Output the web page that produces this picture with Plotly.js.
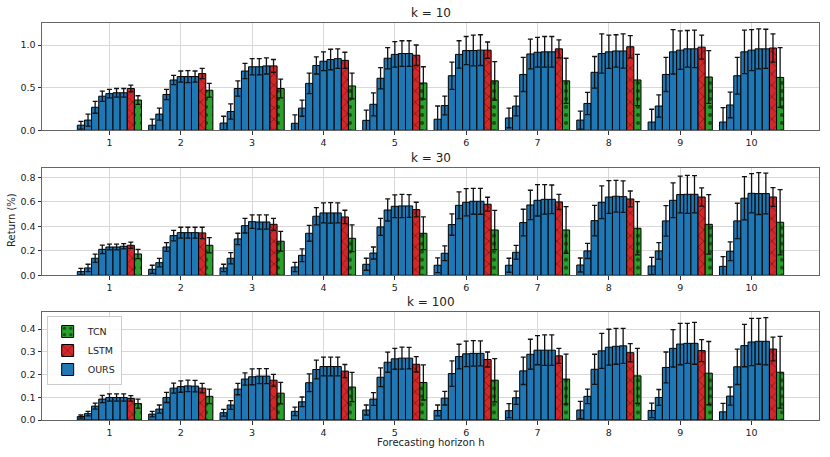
<!DOCTYPE html>
<html>
<head>
<meta charset="utf-8">
<script src="https://cdn.plot.ly/plotly-3.0.1.min.js"></script>
<style>
  html, body { margin: 0; padding: 0; background: #fff; }
  #graph_area { width: 830px; height: 457px; }
</style>
</head>
<body>
<div id="graph_area"></div>
<script>
// horizons 1..10, one group of bars per horizon
const horizons = [1, 2, 3, 4, 5, 6, 7, 8, 9, 10];

// OURS: 7 bars per horizon
const ours10 = [
    [0.06, 0.12, 0.27, 0.40, 0.43, 0.44, 0.44],
    [0.06, 0.19, 0.42, 0.59, 0.63, 0.63, 0.63],
    [0.085, 0.22, 0.49, 0.695, 0.745, 0.745, 0.755],
    [0.082, 0.26, 0.55, 0.76, 0.81, 0.83, 0.84],
    [0.117, 0.305, 0.61, 0.845, 0.89, 0.90, 0.90],
    [0.13, 0.29, 0.64, 0.89, 0.935, 0.935, 0.94],
    [0.145, 0.285, 0.655, 0.895, 0.915, 0.92, 0.92],
    [0.12, 0.315, 0.68, 0.90, 0.92, 0.93, 0.93],
    [0.097, 0.285, 0.655, 0.92, 0.94, 0.955, 0.955],
    [0.097, 0.297, 0.64, 0.92, 0.94, 0.955, 0.955],
];
const ours10Err = [
    [0.045, 0.07, 0.07, 0.06, 0.05, 0.05, 0.05],
    [0.07, 0.07, 0.06, 0.055, 0.065, 0.07, 0.065],
    [0.08, 0.09, 0.09, 0.09, 0.095, 0.095, 0.095],
    [0.1, 0.095, 0.12, 0.1, 0.11, 0.12, 0.115],
    [0.12, 0.135, 0.125, 0.125, 0.15, 0.15, 0.15],
    [0.155, 0.11, 0.16, 0.16, 0.165, 0.18, 0.18],
    [0.115, 0.115, 0.2, 0.175, 0.175, 0.18, 0.18],
    [0.105, 0.13, 0.185, 0.23, 0.195, 0.19, 0.2],
    [0.15, 0.13, 0.2, 0.26, 0.225, 0.215, 0.22],
    [0.17, 0.15, 0.215, 0.255, 0.24, 0.235, 0.23],
];
const lstm10 = [0.49, 0.665, 0.755, 0.82, 0.88, 0.94, 0.955, 0.98, 0.975, 0.965];
const lstm10Err = [0.04, 0.06, 0.075, 0.095, 0.12, 0.095, 0.105, 0.13, 0.14, 0.165];
const tcn10 = [0.355, 0.47, 0.49, 0.52, 0.555, 0.58, 0.58, 0.59, 0.625, 0.62];
const tcn10Err = [0.05, 0.08, 0.11, 0.15, 0.19, 0.225, 0.265, 0.3, 0.31, 0.35];

const ours30 = [
    [0.03, 0.06, 0.139, 0.212, 0.231, 0.231, 0.237],
    [0.049, 0.103, 0.231, 0.324, 0.348, 0.348, 0.348],
    [0.06, 0.139, 0.297, 0.405, 0.438, 0.435, 0.435],
    [0.068, 0.163, 0.343, 0.482, 0.509, 0.509, 0.509],
    [0.09, 0.182, 0.395, 0.533, 0.563, 0.566, 0.566],
    [0.082, 0.18, 0.414, 0.571, 0.596, 0.604, 0.604],
    [0.082, 0.188, 0.43, 0.574, 0.612, 0.62, 0.62],
    [0.084, 0.199, 0.446, 0.596, 0.639, 0.645, 0.642],
    [0.076, 0.199, 0.444, 0.612, 0.659, 0.661, 0.661],
    [0.073, 0.196, 0.444, 0.629, 0.669, 0.667, 0.667],
];
const ours30Err = [
    [0.027, 0.03, 0.033, 0.035, 0.023, 0.023, 0.022],
    [0.033, 0.035, 0.035, 0.043, 0.044, 0.044, 0.044],
    [0.03, 0.046, 0.046, 0.06, 0.055, 0.058, 0.058],
    [0.038, 0.052, 0.065, 0.07, 0.082, 0.084, 0.082],
    [0.049, 0.049, 0.07, 0.09, 0.093, 0.095, 0.093],
    [0.06, 0.06, 0.087, 0.109, 0.111, 0.106, 0.106],
    [0.057, 0.057, 0.109, 0.12, 0.128, 0.12, 0.117],
    [0.057, 0.062, 0.125, 0.133, 0.134, 0.13, 0.128],
    [0.07, 0.068, 0.125, 0.142, 0.15, 0.155, 0.152],
    [0.079, 0.076, 0.144, 0.177, 0.16, 0.171, 0.166],
];
const lstm30 = [0.245, 0.346, 0.416, 0.476, 0.536, 0.58, 0.599, 0.623, 0.639, 0.639];
const lstm30Err = [0.025, 0.046, 0.049, 0.055, 0.06, 0.057, 0.062, 0.065, 0.074, 0.077];
const tcn30 = [0.174, 0.245, 0.278, 0.302, 0.343, 0.37, 0.37, 0.384, 0.416, 0.433];
const tcn30Err = [0.038, 0.062, 0.081, 0.109, 0.133, 0.16, 0.19, 0.217, 0.243, 0.266];

const ours100 = [
    [0.015, 0.028, 0.061, 0.092, 0.099, 0.099, 0.099],
    [0.026, 0.048, 0.099, 0.14, 0.147, 0.15, 0.149],
    [0.032, 0.066, 0.136, 0.18, 0.19, 0.193, 0.193],
    [0.038, 0.08, 0.164, 0.222, 0.235, 0.235, 0.235],
    [0.044, 0.092, 0.188, 0.254, 0.269, 0.272, 0.272],
    [0.042, 0.096, 0.204, 0.279, 0.291, 0.293, 0.293],
    [0.041, 0.098, 0.216, 0.289, 0.307, 0.307, 0.307],
    [0.044, 0.104, 0.223, 0.304, 0.32, 0.324, 0.326],
    [0.042, 0.099, 0.231, 0.315, 0.334, 0.337, 0.337],
    [0.036, 0.105, 0.234, 0.327, 0.343, 0.346, 0.346],
];
const ours100Err = [
    [0.007, 0.01, 0.013, 0.016, 0.016, 0.016, 0.016],
    [0.012, 0.018, 0.022, 0.022, 0.025, 0.025, 0.025],
    [0.015, 0.019, 0.025, 0.027, 0.035, 0.033, 0.033],
    [0.019, 0.021, 0.039, 0.041, 0.041, 0.041, 0.041],
    [0.022, 0.028, 0.041, 0.044, 0.046, 0.048, 0.047],
    [0.024, 0.03, 0.056, 0.054, 0.056, 0.056, 0.055],
    [0.031, 0.029, 0.06, 0.066, 0.064, 0.067, 0.067],
    [0.038, 0.032, 0.066, 0.077, 0.079, 0.079, 0.077],
    [0.032, 0.035, 0.068, 0.082, 0.091, 0.088, 0.092],
    [0.037, 0.04, 0.078, 0.093, 0.104, 0.101, 0.104],
];
const lstm100 = [0.095, 0.14, 0.175, 0.215, 0.245, 0.266, 0.282, 0.296, 0.305, 0.312];
const lstm100Err = [0.012, 0.021, 0.026, 0.029, 0.034, 0.033, 0.033, 0.04, 0.048, 0.052];
const tcn100 = [0.072, 0.104, 0.118, 0.145, 0.165, 0.175, 0.18, 0.194, 0.206, 0.21];
const tcn100Err = [0.02, 0.032, 0.047, 0.064, 0.077, 0.095, 0.11, 0.121, 0.139, 0.158];

const BAR_W = 0.1;
const BLUE = "#1f77b4", RED = "#d62728", GREEN = "#2ca02c";
const FONT = "DejaVu Sans, sans-serif";

function errBar(arr) {
    return { type: "data", array: arr, visible: true, color: "#111", thickness: 1.3, width: 2.5 };
}

function makeTraces(ours, oursErr, lstm, lstmErr, tcn, tcnErr, xa, ya, legend) {
    const ox = [], oy = [], oe = [];
    horizons.forEach((h, i) => {
        ours[i].forEach((v, j) => {
            ox.push(h - 0.4 + BAR_W * j);
            oy.push(v);
            oe.push(oursErr[i][j]);
        });
    });
    const line = { color: "#000", width: 1 };
    return [
        {
            type: "bar", name: "OURS", x: ox, y: oy, width: BAR_W,
            xaxis: xa, yaxis: ya, showlegend: legend,
            marker: { color: BLUE, line: line },
            error_y: errBar(oe),
        },
        {
            type: "bar", name: "LSTM", x: horizons.map(h => h + 0.3), y: lstm, width: BAR_W,
            xaxis: xa, yaxis: ya, showlegend: legend,
            marker: { color: RED, line: line,
                pattern: { shape: "x", fillmode: "overlay", fgcolor: "#000", size: 8, solidity: 0.16 } },
            error_y: errBar(lstmErr),
        },
        {
            type: "bar", name: "TCN", x: horizons.map(h => h + 0.4), y: tcn, width: BAR_W,
            xaxis: xa, yaxis: ya, showlegend: legend,
            marker: { color: GREEN, line: line,
                pattern: { shape: ".", fillmode: "overlay", fgcolor: "#000", size: 8, solidity: 0.22 } },
            error_y: errBar(tcnErr),
        },
    ];
}

const traces = [].concat(
    makeTraces(ours10, ours10Err, lstm10, lstm10Err, tcn10, tcn10Err, "x", "y", false),
    makeTraces(ours30, ours30Err, lstm30, lstm30Err, tcn30, tcn30Err, "x2", "y2", false),
    makeTraces(ours100, ours100Err, lstm100, lstm100Err, tcn100, tcn100Err, "x3", "y3", true)
);

function xAxis(anchor) {
    return {
        anchor: anchor, domain: [0, 1], range: [0.055, 10.945],
        tickmode: "array", tickvals: horizons, ticktext: horizons.map(String),
        ticks: "outside", ticklen: 3.5, tickcolor: "#333",
        showline: true, mirror: true, linecolor: "#666", linewidth: 1,
        showgrid: true, gridcolor: "#d8d8d8", gridwidth: 1, zeroline: false,
        tickfont: { family: FONT, size: 9.5, color: "#222" },
    };
}
function yAxis(anchor, domain, range, dtick) {
    return {
        anchor: anchor, domain: domain, range: range, dtick: dtick, tick0: 0,
        tickformat: ".1f",
        ticks: "outside", ticklen: 3.5, tickcolor: "#333",
        showline: true, mirror: true, linecolor: "#666", linewidth: 1,
        showgrid: true, gridcolor: "#d8d8d8", gridwidth: 1, zeroline: false,
        tickfont: { family: FONT, size: 9.5, color: "#222" },
    };
}

const titleFont = { family: FONT, size: 12, color: "#222" };

const layout = {
    width: 830, height: 457,
    margin: { l: 42, r: 11, t: 23, b: 37 },
    paper_bgcolor: "#fff", plot_bgcolor: "#fff",
    barmode: "overlay",
    font: { family: FONT, size: 10, color: "#222" },
    xaxis: xAxis("y"),
    yaxis: yAxis("x", [0.7297, 1.0], [0, 1.258], 0.5),
    xaxis2: xAxis("y2"),
    yaxis2: yAxis("x2", [0.3645, 0.6355], [0, 0.878], 0.2),
    xaxis3: xAxis("y3"),
    yaxis3: yAxis("x3", [0, 0.271], [0, 0.473], 0.1),
    legend: {
        x: 0.006, y: 0.262, xanchor: "left", yanchor: "top",
        traceorder: "reversed", bgcolor: "rgba(255,255,255,0.85)",
        bordercolor: "#ccc", borderwidth: 1,
        font: { family: FONT, size: 9.5, color: "#222" },
        itemwidth: 30, tracegroupgap: 0,
    },
    annotations: [
        { text: "k = 10", xref: "paper", yref: "paper", x: 0.5, y: 1.0, yanchor: "bottom", yshift: 1, showarrow: false, font: titleFont },
        { text: "k = 30", xref: "paper", yref: "paper", x: 0.5, y: 0.6355, yanchor: "bottom", yshift: 1, showarrow: false, font: titleFont },
        { text: "k = 100", xref: "paper", yref: "paper", x: 0.5, y: 0.271, yanchor: "bottom", yshift: 1, showarrow: false, font: titleFont },
        { text: "Return (%)", xref: "paper", yref: "paper", x: -0.0386, y: 0.504, xanchor: "center", yanchor: "middle",
          textangle: -90, showarrow: false, font: { family: FONT, size: 10, color: "#222" } },
        { text: "Forecasting horizon h", xref: "paper", yref: "paper", x: 0.5, y: -0.056, xanchor: "center", yanchor: "middle",
          showarrow: false, font: { family: FONT, size: 10, color: "#222" } },
    ],
};

Plotly.newPlot("graph_area", traces, layout, { displayModeBar: false, staticPlot: true });
</script>
</body>
</html>
